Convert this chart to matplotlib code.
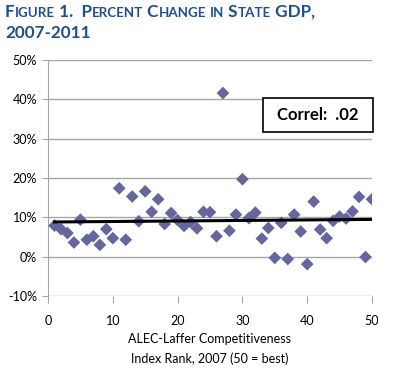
import numpy as np
import matplotlib
matplotlib.use("Agg")
import matplotlib.pyplot as plt
from matplotlib.offsetbox import TextArea, HPacker, AnnotationBbox
from matplotlib.patches import Rectangle

plt.rcParams['font.family'] = ['Lato', 'DejaVu Sans']

# ALEC-Laffer rank (50 = best) and percent change in state GDP, 2007-2011
rank = list(range(1, 51))
gdp_change = [7.9, 7.0, 6.0, 3.6, 9.4, 4.3, 5.2, 3.0, 7.0, 4.7,
              17.4, 4.3, 15.3, 9.0, 16.6, 11.4, 14.6, 8.3, 11.1, 9.3,
              7.8, 8.8, 7.2, 11.4, 11.3, 5.2, 41.6, 6.6, 10.7, 19.7,
              9.8, 11.2, 4.6, 7.3, -0.3, 8.6, -0.6, 10.7, 6.4, -1.9,
              14.0, 6.9, 4.7, 9.1, 10.2, 9.7, 11.5, 15.2, -0.1, 14.6]
y_ticks = [-10, 0, 10, 20, 30, 40, 50]
x_ticks = [0, 10, 20, 30, 40, 50]
correl_label = "Correl:  .02"

title_blue = '#1f4e91'
marker_col = '#66669e'

fig = plt.figure(figsize=(3.98, 3.69), dpi=100)
ax = fig.add_axes([48/398, 1 - 296/369, 324/398, 236/369])

x = np.array(rank)
y = np.array(gdp_change)

# gridlines
for t in y_ticks:
    ax.axhline(t, color='#a6a6a6', lw=1.0, zorder=1)

ax.scatter(x, y, marker='D', s=42, color=marker_col, edgecolors='none', zorder=3)

# linear trend line
slope, icpt = np.polyfit(x, y, 1)
xl = np.array([x.min(), x.max()])
ax.plot(xl, slope * xl + icpt, color='black', lw=2.2, zorder=4)

ax.set_xlim(0, 50)
ax.set_ylim(-10, 50)
ax.set_yticks(y_ticks)
ax.set_yticklabels([f"{t}%" for t in y_ticks])
ax.set_xticks(x_ticks)
for s in ['top', 'right', 'bottom']:
    ax.spines[s].set_visible(False)
ax.spines['left'].set_color('#a6a6a6')
ax.tick_params(axis='y', length=4, color='#a6a6a6', labelsize=9, pad=4)
ax.tick_params(axis='x', length=5, color='#a6a6a6', labelsize=9, pad=9)

ax.set_xlabel("ALEC-Laffer Competitiveness\nIndex Rank, 2007 (50 = best)",
              fontsize=9, linespacing=1.75, labelpad=4)

# Correl box
fig.add_artist(Rectangle((263/398, 1 - 132/369), 110/398, 34/369,
                         transform=fig.transFigure, fc='white', ec='black', lw=1.2))
fig.text(318/398, 1 - 115/369, correl_label, ha='center', va='center',
         fontsize=12, fontweight='bold')

# small-caps title
def small_caps_line(parts, y_px):
    areas = []
    for txt, big in parts:
        areas.append(TextArea(txt, textprops=dict(color=title_blue, fontweight='bold',
                                                  fontsize=12.3 if big else 9.6)))
    box = HPacker(children=areas, align='baseline', pad=0, sep=0)
    ab = AnnotationBbox(box, (5, 369 - y_px), xycoords='figure pixels',
                        box_alignment=(0, 0.5), frameon=False, pad=0)
    fig.add_artist(ab)

small_caps_line([("F", True), ("IGURE", False), (" 1.  P", True), ("ERCENT", False),
                 (" C", True), ("HANGE", False), (" ", True), ("IN", False),
                 (" S", True), ("TATE", False), (" GDP,", True)], 12)
small_caps_line([("2007-2011", True)], 33)

fig.savefig("out.png", dpi=100)
